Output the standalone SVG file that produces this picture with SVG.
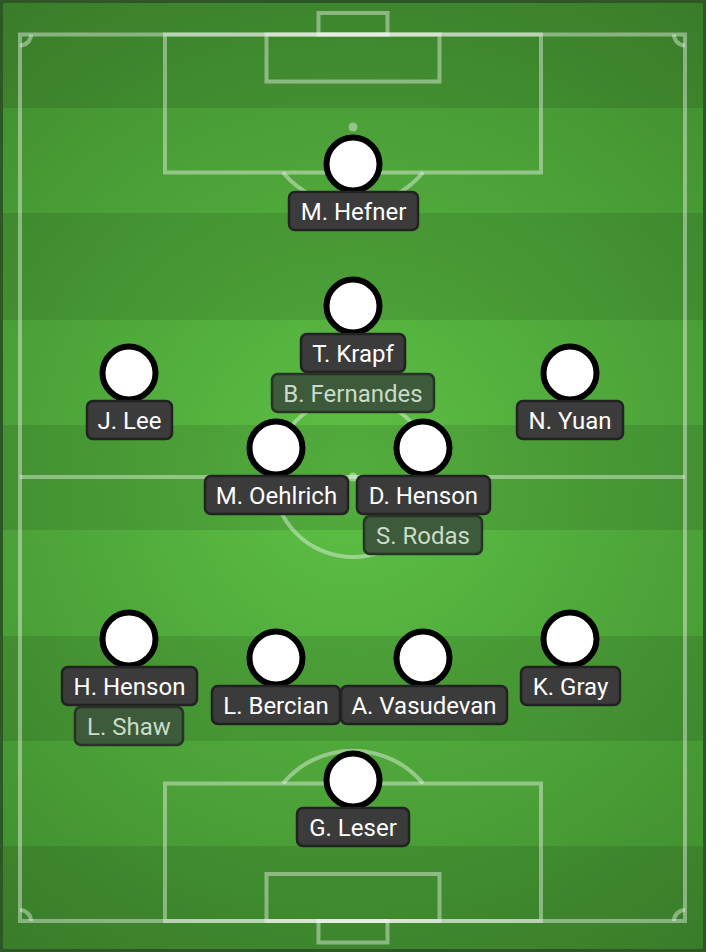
<svg xmlns="http://www.w3.org/2000/svg" width="706" height="952" viewBox="0 0 706 952">
<defs>
<radialGradient id="turf" gradientUnits="userSpaceOnUse" cx="353" cy="476" r="600">
<stop offset="0" stop-color="#5dc145"/>
<stop offset="1" stop-color="#3f8a2e"/>
</radialGradient>
<style>
.stripe{fill:#000;fill-opacity:0.1}
.ln{fill:none;stroke:#ffffff;stroke-opacity:0.4;stroke-width:4}
.spot{fill:#ffffff;fill-opacity:0.4}
.dot{fill:#ffffff;stroke:#000000;stroke-width:6}
.lab{fill:#3b3b3b;stroke:#222222;stroke-width:2.5}
.sub{fill:#3d5a3b;stroke:#263326;stroke-width:2.5}
.t{font-family:Roboto,"Liberation Sans",sans-serif;font-size:24px;text-anchor:middle;fill:#ffffff}
.ts{font-family:Roboto,"Liberation Sans",sans-serif;font-size:24px;text-anchor:middle;fill:#c9dcc8}
</style>
</defs>
<g id="pitch">
<rect x="0" y="0" width="706" height="952" fill="url(#turf)"/>
<rect class="stripe" x="0" y="0" width="706" height="108"/>
<rect class="stripe" x="0" y="213" width="706" height="107"/>
<rect class="stripe" x="0" y="425" width="706" height="105"/>
<rect class="stripe" x="0" y="636" width="706" height="105"/>
<rect class="stripe" x="0" y="846" width="706" height="106"/>
<rect x="1.5" y="1.5" width="703" height="949" fill="none" stroke="#2d5826" stroke-width="3"/>
<rect class="ln" x="20" y="34.5" width="665" height="886.5"/>
<line class="ln" x1="20" y1="477" x2="685" y2="477"/>
<circle class="ln" cx="353" cy="477" r="80"/>
<circle class="spot" cx="353" cy="477" r="4.5"/>
<rect class="ln" x="165" y="34.5" width="376" height="138"/>
<rect class="ln" x="266.5" y="34.5" width="173" height="47"/>
<rect class="ln" x="318.5" y="13" width="69" height="21.5"/>
<path class="ln" d="M283 172.5 A91 91 0 0 0 423 172.5"/>
<circle class="spot" cx="353" cy="127" r="4.5"/>
<rect class="ln" x="165" y="783.5" width="376" height="137.5"/>
<rect class="ln" x="266.5" y="874" width="173" height="47"/>
<rect class="ln" x="318.5" y="921" width="69" height="21.5"/>
<path class="ln" d="M283 783.5 A91 91 0 0 1 423 783.5"/>
<circle class="spot" cx="353" cy="828" r="4.5"/>
<path class="ln" d="M31 34.5 A11 11 0 0 1 20 45.5"/>
<path class="ln" d="M674 34.5 A11 11 0 0 0 685 45.5"/>
<path class="ln" d="M20 910 A11 11 0 0 1 31 921"/>
<path class="ln" d="M685 910 A11 11 0 0 0 674 921"/>
</g>
<g id="connectors"></g>
<g id="p-hefner">
<circle class="dot" cx="353" cy="164" r="26.5"/>
<rect class="lab" x="289" y="192" width="129" height="38" rx="6"/>
<text class="t" x="353.5" y="219.5">M. Hefner</text>
</g>
<g id="p-krapf">
<circle class="dot" cx="353" cy="306" r="26.5"/>
<rect class="lab" x="301" y="334" width="104" height="38" rx="6"/>
<text class="t" x="353" y="361.5">T. Krapf</text>
<rect class="sub" x="272" y="374" width="162" height="38" rx="6"/>
<text class="ts" x="353" y="401.5">B. Fernandes</text>
</g>
<g id="p-lee">
<circle class="dot" cx="129" cy="373" r="26.5"/>
<rect class="lab" x="87" y="401" width="85" height="38" rx="6"/>
<text class="t" x="129.5" y="428.5">J. Lee</text>
</g>
<g id="p-yuan">
<circle class="dot" cx="570" cy="373" r="26.5"/>
<rect class="lab" x="517" y="401" width="106" height="38" rx="6"/>
<text class="t" x="570" y="428.5">N. Yuan</text>
</g>
<g id="p-oehlrich">
<circle class="dot" cx="276" cy="448" r="26.5"/>
<rect class="lab" x="205" y="476" width="143" height="38" rx="6"/>
<text class="t" x="276.5" y="503.5">M. Oehlrich</text>
</g>
<g id="p-dhenson">
<circle class="dot" cx="423" cy="448" r="26.5"/>
<rect class="lab" x="357" y="476" width="133" height="38" rx="6"/>
<text class="t" x="423.5" y="503.5">D. Henson</text>
<rect class="sub" x="364" y="516" width="118" height="38" rx="6"/>
<text class="ts" x="423" y="543.5">S. Rodas</text>
</g>
<g id="p-hhenson">
<circle class="dot" cx="129" cy="639" r="26.5"/>
<rect class="lab" x="62" y="667" width="135" height="38" rx="6"/>
<text class="t" x="129.5" y="694.5">H. Henson</text>
<rect class="sub" x="75" y="707" width="108" height="38" rx="6"/>
<text class="ts" x="129" y="734.5">L. Shaw</text>
</g>
<g id="p-bercian">
<circle class="dot" cx="276" cy="658" r="26.5"/>
<rect class="lab" x="212" y="686" width="128" height="38" rx="6"/>
<text class="t" x="276" y="713.5">L. Bercian</text>
</g>
<g id="p-vasudevan">
<circle class="dot" cx="423" cy="658" r="26.5"/>
<rect class="lab" x="341" y="686" width="166" height="38" rx="6"/>
<text class="t" x="424" y="713.5">A. Vasudevan</text>
</g>
<g id="p-gray">
<circle class="dot" cx="570" cy="639" r="26.5"/>
<rect class="lab" x="521" y="667" width="99" height="38" rx="6"/>
<text class="t" x="570.5" y="694.5">K. Gray</text>
</g>
<g id="p-leser">
<circle class="dot" cx="353" cy="780" r="26.5"/>
<rect class="lab" x="297" y="808" width="112" height="38" rx="6"/>
<text class="t" x="353" y="835.5">G. Leser</text>
</g>
</svg>
